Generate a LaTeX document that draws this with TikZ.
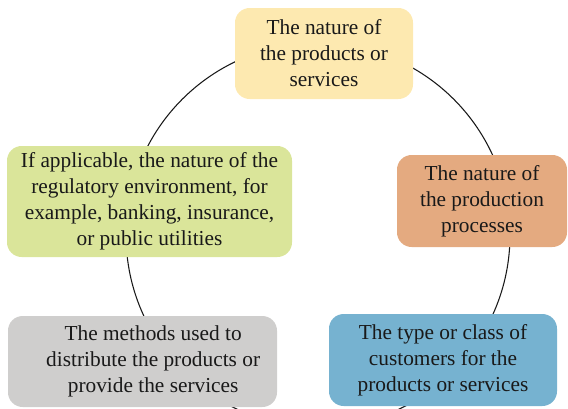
\documentclass[tikz,border=0pt]{standalone}
\usepackage{fontspec}
\setmainfont{Liberation Serif}
\usetikzlibrary{positioning}
\definecolor{cream}{RGB}{253,233,176}
\definecolor{lime}{RGB}{218,229,154}
\definecolor{clay}{RGB}{228,170,128}
\definecolor{stone}{RGB}{207,206,205}
\definecolor{sky}{RGB}{118,178,208}
\definecolor{ink}{RGB}{25,25,25}
\tikzset{
  box/.style={fill=#1,rounded corners=11pt,align=center,inner sep=2pt,
    font=\fontsize{16}{19.5}\selectfont,text=ink},
  box/.default=cream,
  ring/.style={draw=ink,line width=0.8pt},
}
\begin{document}
\begin{tikzpicture}[x=0.75pt,y=-0.75pt]
  \useasboundingbox (0,0) rectangle (568,408);
  % the cycle behind the boxes
  \coordinate (hub) at (318,235);
  \draw[ring] (hub) circle (144pt);
  % the five boxes
  \node[box=cream,minimum width=133.5pt,minimum height=68.25pt] (nature) at (324,53.5)
    {The nature of\\the products or\\services};
  \node[box=clay,minimum width=127.5pt,minimum height=69pt] (process) at (482,201)
    {The nature of\\the production\\processes};
  \node[box=sky,minimum width=171pt,minimum height=69pt] (customer) at (443,360)
    {The type or class of\\customers for the\\products or services};
  \node[box=stone,minimum width=201.75pt,minimum height=68.25pt] (distrib) at (142.5,361.5)
    {\hspace*{16pt}The methods used to\\\hspace*{16pt}distribute the products or\\\hspace*{16pt}provide the services};
  \node[box=lime,minimum width=213.75pt,minimum height=83.25pt] (regul) at (149.5,201.5)
    {If applicable, the nature of the\\regulatory environment, for\\example, banking, insurance,\\or public utilities};
\end{tikzpicture}
\end{document}
